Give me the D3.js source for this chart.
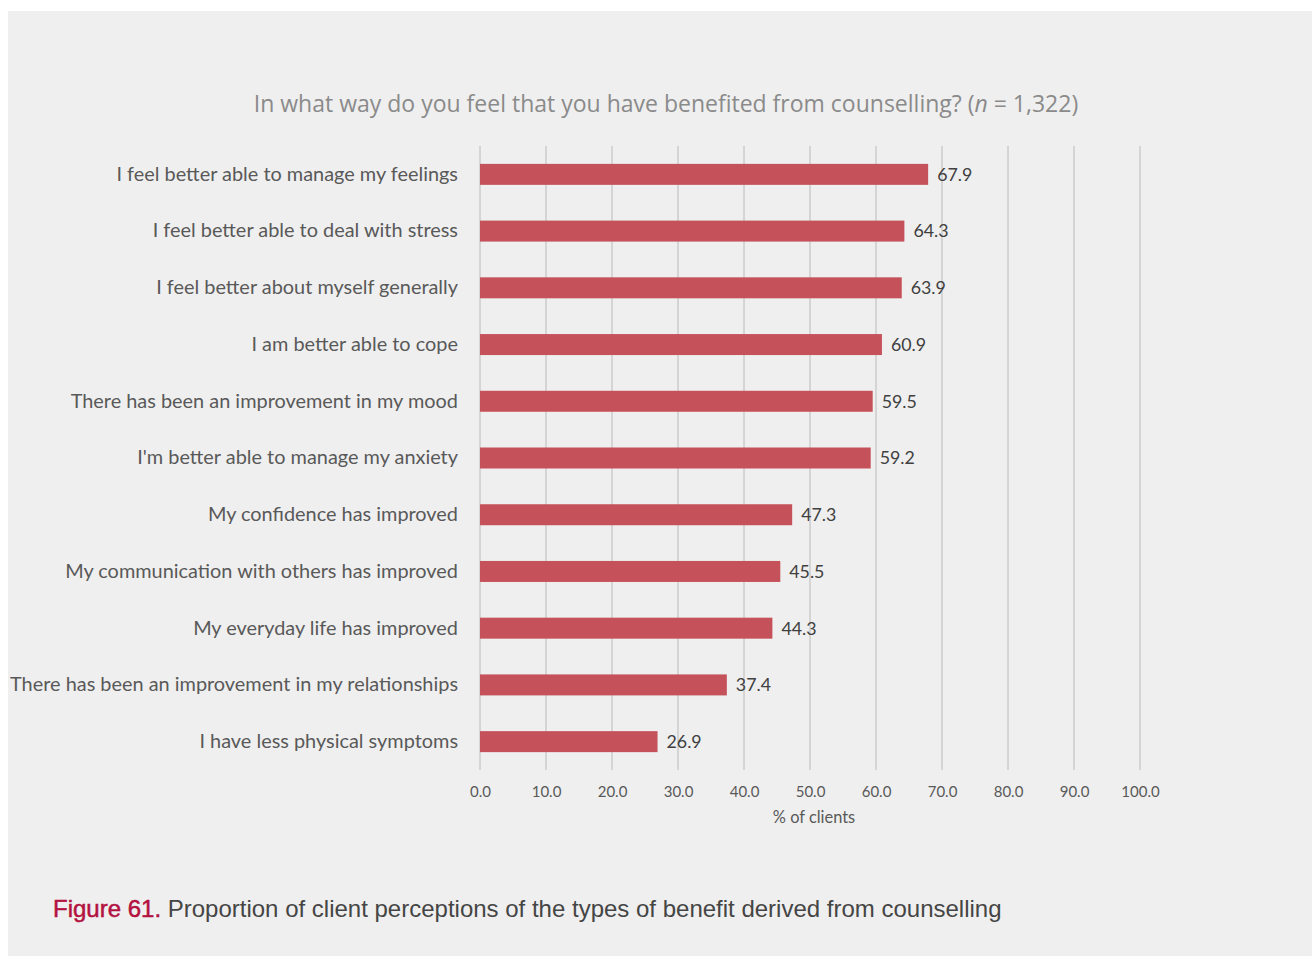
<!DOCTYPE html>
<html>
<head>
<meta charset="utf-8">
<script src="https://cdn.jsdelivr.net/npm/d3@7"></script>
<style>
  html, body { margin: 0; padding: 0; background: #ffffff; }
  svg { display: block; }
</style>
</head>
<body>
<svg id="chart" width="1312" height="957"></svg>
<script>
// Benefit categories, in display order (top to bottom)
const categories = [
  "I feel better able to manage my feelings",
  "I feel better able to deal with stress",
  "I feel better about myself generally",
  "I am better able to cope",
  "There has been an improvement in my mood",
  "I'm better able to manage my anxiety",
  "My confidence has improved",
  "My communication with others has improved",
  "My everyday life has improved",
  "There has been an improvement in my relationships",
  "I have less physical symptoms"
];
// Percentage of clients reporting each benefit
const values = [67.9, 64.3, 63.9, 60.9, 59.5, 59.2, 47.3, 45.5, 44.3, 37.4, 26.9];
// X axis tick values
const xTicks = [0, 10, 20, 30, 40, 50, 60, 70, 80, 90, 100];

const svg = d3.select("#chart");
const labelFont = "Lato, 'Open Sans', sans-serif";

// Grey panel behind the figure
svg.append("rect")
  .attr("x", 8).attr("y", 11)
  .attr("width", 1312 - 8).attr("height", 945)
  .attr("fill", "#efefef");

const plot = { left: 480, right: 1140, top: 146, bottom: 770 };

const x = d3.scaleLinear().domain([0, 100]).range([plot.left, plot.right]);
const y = d3.scaleBand().domain(categories).range([plot.top, plot.bottom])
  .paddingInner(0.63).paddingOuter(0.315);

// Vertical gridlines
svg.append("g").selectAll("line")
  .data(xTicks)
  .join("line")
  .attr("x1", d => x(d)).attr("x2", d => x(d))
  .attr("y1", plot.top).attr("y2", plot.bottom)
  .attr("stroke", "#c6c6c6").attr("stroke-width", 1.3);

// Title
svg.append("text")
  .attr("x", 666).attr("y", 112)
  .attr("text-anchor", "middle")
  .attr("font-family", "'Open Sans', sans-serif")
  .attr("font-size", 23)
  .attr("fill", "#8a8a8a")
  .call(t => {
    t.append("tspan").text("In what way do you feel that you have benefited from counselling? (");
    t.append("tspan").attr("font-style", "italic").text("n");
    t.append("tspan").text(" = 1,322)");
  });

// Bars
svg.append("g").selectAll("rect")
  .data(values)
  .join("rect")
  .attr("x", x(0))
  .attr("y", (d, i) => y(categories[i]))
  .attr("width", d => x(d) - x(0))
  .attr("height", y.bandwidth())
  .attr("fill", "#c5525a");

// Value labels
svg.append("g").selectAll("text")
  .data(values)
  .join("text")
  .attr("x", d => x(d) + 9)
  .attr("y", (d, i) => y(categories[i]) + y.bandwidth() / 2)
  .attr("dy", "0.36em")
  .attr("font-family", labelFont)
  .attr("font-size", 17.8)
  .attr("fill", "#404040")
  .text(d => d.toFixed(1));

// Category axis labels
const yAxis = d3.axisLeft(y).tickSize(0).tickPadding(22);
const yg = svg.append("g").attr("transform", `translate(${plot.left},0)`).call(yAxis);
yg.select(".domain").remove();
yg.selectAll("text")
  .attr("font-family", labelFont)
  .attr("font-size", 19.9)
  .attr("fill", "#595959");

// X axis tick labels
const xAxis = d3.axisBottom(x).tickValues(xTicks).tickSize(0).tickPadding(16)
  .tickFormat(d3.format(".1f"));
const xg = svg.append("g").attr("transform", `translate(0,${plot.bottom})`).call(xAxis);
xg.select(".domain").remove();
xg.selectAll("text")
  .attr("font-family", labelFont)
  .attr("font-size", 15)
  .attr("fill", "#595959");

// X axis title
svg.append("text")
  .attr("x", x(50) + 4).attr("y", 823)
  .attr("text-anchor", "middle")
  .attr("font-family", labelFont)
  .attr("font-size", 16.4)
  .attr("fill", "#595959")
  .text("% of clients");

// Figure caption
svg.append("text")
  .attr("x", 53).attr("y", 917)
  .attr("font-family", "'Liberation Sans', Arial, sans-serif")
  .attr("font-size", 24)
  .call(t => {
    t.append("tspan").attr("fill", "#b3123f")
      .attr("stroke", "#b3123f").attr("stroke-width", 0.5)
      .text("Figure 61.");
    t.append("tspan").attr("fill", "#454545").text(" Proportion of client perceptions of the types of benefit derived from counselling");
  });
</script>
</body>
</html>
